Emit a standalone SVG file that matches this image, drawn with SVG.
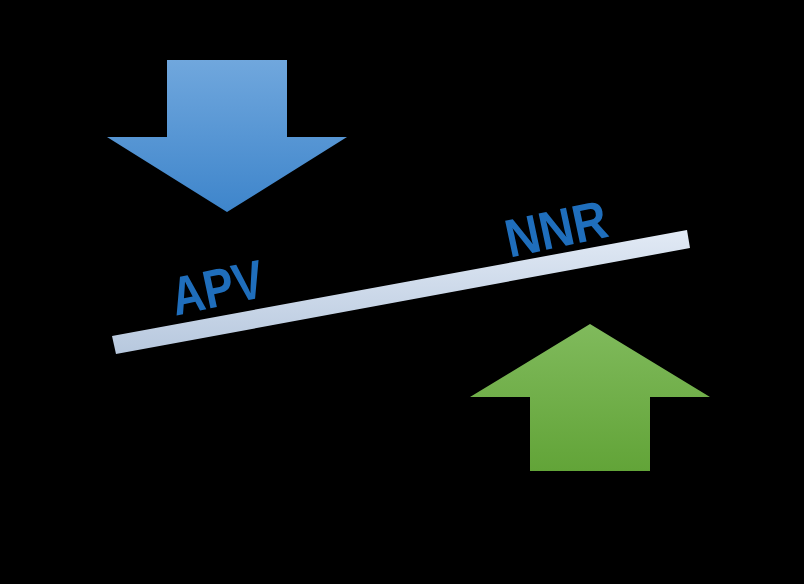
<svg xmlns="http://www.w3.org/2000/svg" width="804" height="584" viewBox="0 0 804 584">
<defs>
<linearGradient id="gb" x1="0" y1="0" x2="0" y2="1"><stop offset="0" stop-color="#70A7DD"/><stop offset="1" stop-color="#3E85CB"/></linearGradient>
<linearGradient id="gg" x1="0" y1="0" x2="0" y2="1"><stop offset="0" stop-color="#80BA5C"/><stop offset="1" stop-color="#62A438"/></linearGradient>
<linearGradient id="gbar" x1="0" y1="0" x2="0" y2="1"><stop offset="0" stop-color="#E2EAF5"/><stop offset="1" stop-color="#B7C8DE"/></linearGradient>
<style>.lbl{font-family:"Liberation Sans",Arial,sans-serif;font-weight:bold;font-size:54px;fill:#1F6EBC;text-anchor:middle}</style>
</defs>
<rect width="804" height="584" fill="#000"/>
<g id="arrow-down"><polygon points="167,60 287,60 287,137 347,137 227,212 107,137 167,137" fill="url(#gb)"/></g>
<g id="arrow-up"><polygon points="590,324 710,397 650,397 650,471 530,471 530,397 470,397" fill="url(#gg)"/></g>
<g id="bar"><polygon points="112,336 687,230 690,248 116,354" fill="url(#gbar)"/></g>
<g id="apv"><text class="lbl" transform="translate(221,306) rotate(-12) scale(0.84,1)">APV</text></g>
<g id="nnr"><text class="lbl" transform="translate(560,247) rotate(-12) scale(0.88,1)">NNR</text></g>
<g id="connectors"/>
</svg>
